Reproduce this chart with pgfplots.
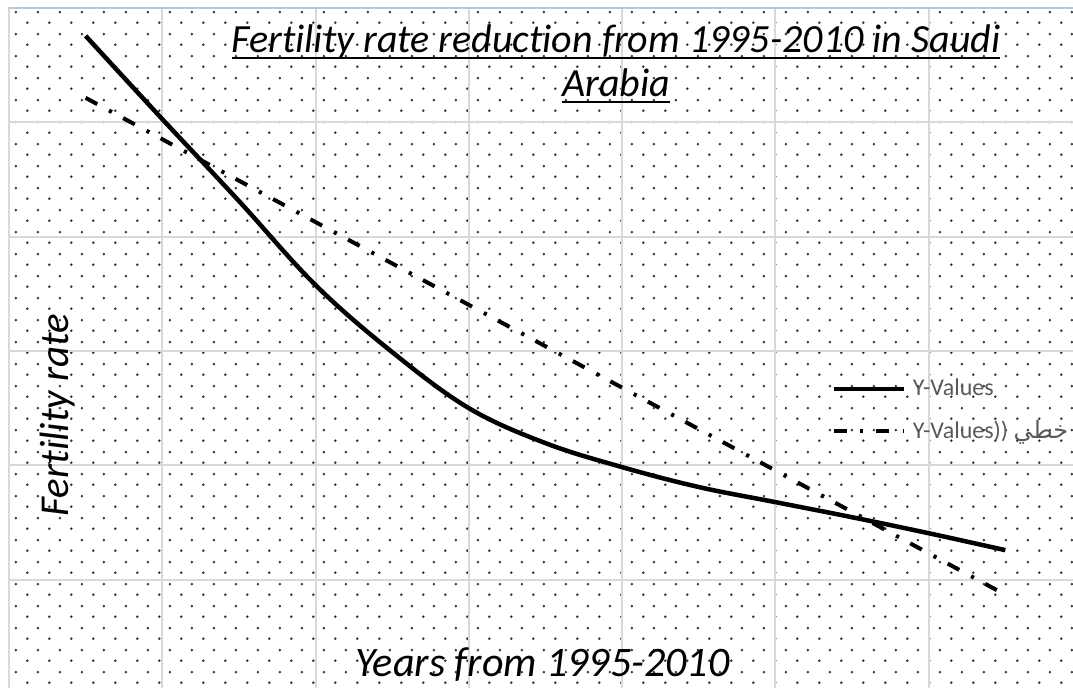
\documentclass[border=0pt]{standalone}
\usepackage{pgfplots}
\pgfplotsset{compat=1.18}
\usepackage{fontspec}
\setmainfont[Ligatures=NoCommon]{Carlito}
\newfontfamily\arabicfont[Script=Arabic]{DejaVu Sans}
\TeXXeTstate=1
\usetikzlibrary{patterns}
\definecolor{gridgray}{HTML}{D9D9D9}
\definecolor{legtext}{HTML}{595959}
\definecolor{topblue}{RGB}{175,203,226}
\pgfdeclarepatternformonly{sdots}{\pgfqpoint{0pt}{0pt}}{\pgfqpoint{10.8pt}{10.8pt}}{\pgfqpoint{10.8pt}{10.8pt}}{%
  \pgfpathcircle{\pgfqpoint{2.7pt}{2.7pt}}{0.72pt}%
  \pgfpathcircle{\pgfqpoint{8.1pt}{8.1pt}}{0.72pt}%
  \pgfusepath{fill}}
\newcommand\ul[1]{\setbox0\hbox{#1}\rlap{\rule[-3pt]{\wd0}{1pt}}\box0}

\pgfplotstableread{
x y
1 5.378
2 5.014
3 4.656
4 4.288
5 3.995
6 3.750
7 3.597
8 3.492
9 3.405
10 3.339
11 3.273
12 3.203
13 3.129
}\fert

\begin{document}
\begin{tikzpicture}
\useasboundingbox (0,0) rectangle (536.5pt,344pt);
\clip (0,0) rectangle (536.5pt,344pt);
\begin{axis}[
  scale only axis, width=536.5pt, height=343pt,
  at={(4.5pt,-3pt)}, anchor=south west,
  xmin=0, xmax=14, ymin=2.5, ymax=5.5,
  xtick={0,2,4,6,8,10,12,14}, ytick={2.5,3,3.5,4,4.5,5,5.5},
  xticklabels={}, yticklabels={},
  major tick length=0pt,
  grid=major, major grid style={draw=gridgray, line width=1pt},
  axis line style={draw=gridgray, line width=1pt},
  axis background/.style={preaction={fill=white}, pattern=sdots, pattern color=black!80},
  legend style={at={(0.766,0.4133)}, anchor=west, draw=none, fill=none,
     inner sep=0pt, row sep=11pt, column sep=3.5pt,
     nodes={inner sep=0pt, text=legtext, font=\fontsize{12}{14}\selectfont}},
  legend cell align=left,
  legend image code/.code={\draw[#1] (0pt,0pt) -- (35pt,0pt);},
]
\addplot[black, line width=2.25pt, smooth, tension=0.6] table[x=x,y=y] {\fert};
\addlegendentry{Y-Values}
\addplot[black, line width=2pt, dash pattern=on 6.6pt off 6.7pt on 1.6pt off 6.4pt] coordinates {(1,5.107) (13,2.934)};
\addlegendentry{Y-Values)) {\arabicfont\beginR خطي\endR}}
\end{axis}
\draw[topblue, line width=0.8pt] (4.5pt,340pt) -- (536.5pt,340pt);
\node[anchor=base, inner sep=0pt, font=\fontsize{20}{22}\selectfont\itshape] at (308pt,317.5pt) {\ul{Fertility rate reduction from 1995-2010 in Saudi}};
\node[anchor=base, inner sep=0pt, font=\fontsize{20}{22}\selectfont\itshape] at (308pt,295.5pt) {\ul{Arabia}};
\node[rotate=90, anchor=base, inner sep=0pt, font=\fontsize{20.5}{24}\selectfont\itshape] at (34pt,136.5pt) {Fertility rate};
\node[anchor=base, inner sep=0pt, font=\fontsize{21}{24}\selectfont\itshape] at (271.25pt,5.65pt) {Years from 1995-2010};
\end{tikzpicture}
\end{document}
